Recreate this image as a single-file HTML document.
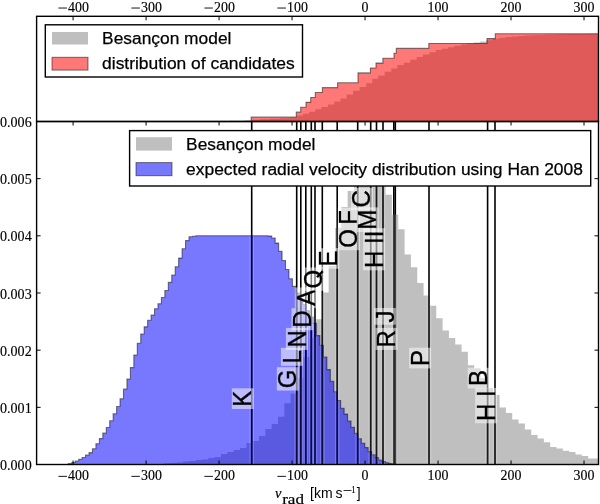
<!DOCTYPE html><html><head><meta charset="utf-8"><style>html,body{margin:0;padding:0;background:#fff;}svg{display:block;will-change:transform;} .tk{stroke:#000;stroke-width:0.15px;} .lg{stroke:#000;stroke-width:0.25px;}.s{font-family:"Liberation Serif",serif;} .a{font-family:"Liberation Sans",sans-serif;}</style></head><body>
<svg width="600" height="504" viewBox="0 0 600 504">
<rect width="600" height="504" fill="#fff"/>
<defs><clipPath id="cm"><rect x="36.6" y="121.5" width="561.9" height="343.0"/></clipPath><clipPath id="ct"><rect x="36.6" y="16.3" width="561.9" height="105.2"/></clipPath></defs>
<g clip-path="url(#ct)">
<path d="M36.6,121.5L36.6,121.5L215,121.5L215,121.2L230,121.2L230,120.8L245,120.8L245,120.3L251,120.3L251,119.8L260,119.8L260,119.3L270,119.3L270,118.8L280,118.8L280,118.2L290.5,118.2L290.5,117.4L296.7,117.4L296.7,115.4L302.9,115.4L302.9,113.8L309.1,113.8L309.1,111.8L315.3,111.8L315.3,109.2L321.4,109.2L321.4,107.1L328.1,107.1L328.1,104.5L334.3,104.5L334.3,101.4L340.5,101.4L340.5,98.4L346.5,98.4L346.5,94.6L353.1,94.6L353.1,90.8L359.6,90.8L359.6,87L366.2,87L366.2,83.2L372.2,83.2L372.2,78.8L378.2,78.8L378.2,75.5L384.7,75.5L384.7,71.7L391.3,71.7L391.3,68.4L397.3,68.4L397.3,65L403.8,65L403.8,62.7L410.2,62.7L410.2,59.8L416.6,59.8L416.6,57.1L423,57.1L423,54.5L429.4,54.5L429.4,52.2L435.8,52.2L435.8,50.1L441.7,50.1L441.7,48.7L448.1,48.7L448.1,47.3L454.5,47.3L454.5,45.8L460.9,45.8L460.9,44.6L467.3,44.6L467.3,43.6L473.7,43.6L473.7,42.6L480,42.6L480,41.4L486.4,41.4L486.4,40.2L492.8,40.2L492.8,38.8L499.1,38.8L499.1,37.8L505.5,37.8L505.5,37L511.9,37L511.9,36.4L518.3,36.4L518.3,35.9L524.6,35.9L524.6,35.5L531,35.5L531,35.2L537.4,35.2L537.4,34.9L543.7,34.9L543.7,34.7L550.1,34.7L550.1,34.5L556.5,34.5L556.5,34.3L562.9,34.3L562.9,34.2L569.2,34.2L569.2,34.1L575.6,34.1L575.6,34L582,34L582,33.9L588.3,33.9L588.3,33.8L594.7,33.8L594.7,33.7L598.5,33.7L598.5,121.5Z" fill="#808080" fill-opacity="0.5"/>
<path d="M36.6,121.5L251.2,121.5L251.2,117.04L296.3,117.04L296.3,112.14L300.7,112.14L300.7,107.23L306,107.23L306,102.33L310.7,102.33L310.7,97.43L315.3,97.43L315.3,92.53L322.4,92.53L322.4,87.63L337.6,87.63L337.6,82.72L358,82.72L358,72.92L370.4,72.92L370.4,68.02L376,68.02L376,63.12L382.9,63.12L382.9,58.21L394,58.21L394,53.31L396.3,53.31L396.3,48.41L428.8,48.41L428.8,43.51L487,43.51L487,38.61L495.3,38.61L495.3,33.7L598.5,33.7L598.5,121.5" fill="#ff0000" fill-opacity="0.53" stroke="#000" stroke-opacity="0.5" stroke-width="1.1"/>
</g>
<g clip-path="url(#cm)">
<line x1="251.7" y1="121.5" x2="251.7" y2="464.5" stroke="#000" stroke-width="1.6"/>
<line x1="296.7" y1="121.5" x2="296.7" y2="464.5" stroke="#000" stroke-width="1.6"/>
<line x1="300.8" y1="121.5" x2="300.8" y2="464.5" stroke="#000" stroke-width="1.6"/>
<line x1="305.8" y1="121.5" x2="305.8" y2="464.5" stroke="#000" stroke-width="1.6"/>
<line x1="311.3" y1="121.5" x2="311.3" y2="464.5" stroke="#000" stroke-width="1.6"/>
<line x1="315" y1="121.5" x2="315" y2="464.5" stroke="#000" stroke-width="1.6"/>
<line x1="322.3" y1="121.5" x2="322.3" y2="464.5" stroke="#000" stroke-width="1.6"/>
<line x1="337.2" y1="121.5" x2="337.2" y2="464.5" stroke="#000" stroke-width="1.6"/>
<line x1="357.7" y1="121.5" x2="357.7" y2="464.5" stroke="#000" stroke-width="1.6"/>
<line x1="370.7" y1="121.5" x2="370.7" y2="464.5" stroke="#000" stroke-width="1.6"/>
<line x1="376.5" y1="121.5" x2="376.5" y2="464.5" stroke="#000" stroke-width="1.6"/>
<line x1="383" y1="121.5" x2="383" y2="464.5" stroke="#000" stroke-width="1.6"/>
<line x1="393.8" y1="121.5" x2="393.8" y2="464.5" stroke="#000" stroke-width="1.6"/>
<line x1="395.3" y1="121.5" x2="395.3" y2="464.5" stroke="#000" stroke-width="1.6"/>
<line x1="429" y1="121.5" x2="429" y2="464.5" stroke="#000" stroke-width="1.6"/>
<line x1="487.6" y1="121.5" x2="487.6" y2="464.5" stroke="#000" stroke-width="1.6"/>
<line x1="495" y1="121.5" x2="495" y2="464.5" stroke="#000" stroke-width="1.6"/>
<path d="M164.07,464.5L164.07,463.3L170.4,463.3L170.4,463L176.73,463L176.73,462.5L183.06,462.5L183.06,461.5L189.39,461.5L189.39,461L195.72,461L195.72,460L202.05,460L202.05,459.5L208.38,459.5L208.38,458L214.71,458L214.71,457L221.04,457L221.04,454L227.37,454L227.37,452L233.7,452L233.7,450L240.03,450L240.03,448L246.36,448L246.36,443L252.69,443L252.69,441L259.02,441L259.02,436L265.35,436L265.35,429L271.68,429L271.68,424L278.01,424L278.01,416.7L284.34,416.7L284.34,403.3L290.67,403.3L290.67,393.8L297,393.8L297,378L303.33,378L303.33,357L309.66,357L309.66,338L315.99,338L315.99,319.3L322.32,319.3L322.32,292.4L328.65,292.4L328.65,266L334.98,266L334.98,228L341.31,228L341.31,207L347.64,207L347.64,191L353.97,191L353.97,185L360.3,185L360.3,184L366.63,184L366.63,184L372.96,184L372.96,183L379.29,183L379.29,183L385.62,183L385.62,194.7L391.95,194.7L391.95,214.8L398.28,214.8L398.28,229.3L404.61,229.3L404.61,254.5L410.94,254.5L410.94,267.3L417.27,267.3L417.27,283L423.6,283L423.6,295.4L429.93,295.4L429.93,305.7L436.26,305.7L436.26,318.2L442.59,318.2L442.59,330.5L448.92,330.5L448.92,338L455.25,338L455.25,344.4L461.58,344.4L461.58,351.7L467.91,351.7L467.91,365.2L474.24,365.2L474.24,368.2L480.57,368.2L480.57,378L486.9,378L486.9,388L493.23,388L493.23,395L499.56,395L499.56,407.6L505.89,407.6L505.89,412.9L512.22,412.9L512.22,419.5L518.55,419.5L518.55,423.5L524.88,423.5L524.88,429.5L531.21,429.5L531.21,434.9L537.54,434.9L537.54,438.4L543.87,438.4L543.87,442.3L550.2,442.3L550.2,447L556.53,447L556.53,448.4L562.86,448.4L562.86,450.7L569.19,450.7L569.19,451.9L575.52,451.9L575.52,454.5L581.85,454.5L581.85,455.9L588.18,455.9L588.18,458.4L594.51,458.4L594.51,458.4L598.5,458.4L598.5,464.5Z" fill="#808080" fill-opacity="0.5"/>
<path d="M61.45,464.5L61.45,464.5L64.9,464.5L64.9,464.5L68.35,464.5L68.35,463.63L71.8,463.63L71.8,462.5L75.24,462.5L75.24,461.01L78.69,461.01L78.69,459.24L82.14,459.24L82.14,457.44L85.58,457.44L85.58,455.04L89.03,455.04L89.03,452.65L92.48,452.65L92.48,448.71L95.92,448.71L95.92,443.74L99.37,443.74L99.37,438.59L102.82,438.59L102.82,433.15L106.27,433.15L106.27,427.49L109.71,427.49L109.71,420.69L113.16,420.69L113.16,413.81L116.61,413.81L116.61,406.46L120.05,406.46L120.05,398.7L123.5,398.7L123.5,389.14L126.95,389.14L126.95,378.95L130.39,378.95L130.39,367.58L133.84,367.58L133.84,354.97L137.29,354.97L137.29,343.21L140.74,343.21L140.74,334L144.18,334L144.18,326.86L147.63,326.86L147.63,320.32L151.08,320.32L151.08,315.16L154.52,315.16L154.52,308.68L157.97,308.68L157.97,303.7L161.42,303.7L161.42,297.57L164.86,297.57L164.86,290.57L168.31,290.57L168.31,282.38L171.76,282.38L171.76,275.16L175.21,275.16L175.2,266.69L178.65,266.69L178.65,258.11L182.1,258.11L182.1,248.75L185.55,248.75L185.55,240.61L188.99,240.61L188.99,236.78L192.44,236.78L192.44,236.19L195.89,236.19L195.89,235.8L199.33,235.8L199.33,235.8L202.78,235.8L202.78,235.8L206.23,235.8L206.23,235.8L209.68,235.8L209.68,235.8L213.12,235.8L213.12,235.8L216.57,235.8L216.57,235.8L220.02,235.8L220.02,235.8L223.46,235.8L223.46,235.8L226.91,235.8L226.91,235.8L230.36,235.8L230.36,235.8L233.8,235.8L233.8,235.8L237.25,235.8L237.25,235.8L240.7,235.8L240.7,235.8L244.15,235.8L244.14,235.8L247.59,235.8L247.59,235.8L251.04,235.8L251.04,235.8L254.49,235.8L254.49,235.8L257.93,235.8L257.93,235.8L261.38,235.8L261.38,235.8L264.83,235.8L264.83,235.8L268.27,235.8L268.27,236.12L271.72,236.12L271.72,238.02L275.17,238.02L275.17,243.08L278.62,243.08L278.62,251.39L282.06,251.39L282.06,260.51L285.51,260.51L285.51,269.47L288.96,269.47L288.96,278.71L292.4,278.71L292.4,286.38L295.85,286.38L295.85,293.09L299.3,293.09L299.3,298.9L302.74,298.9L302.74,304.7L306.19,304.7L306.19,310.73L309.64,310.73L309.64,317.05L313.09,317.05L313.09,323.37L316.53,323.37L316.53,335.6L319.98,335.6L319.98,345.3L323.43,345.3L323.43,357L326.87,357L326.87,369.6L330.32,369.6L330.32,381.4L333.77,381.4L333.77,391.8L337.21,391.8L337.21,400.5L340.66,400.5L340.66,408.2L344.11,408.2L344.11,414.1L347.56,414.1L347.56,421L351,421L351,427.3L354.45,427.3L354.45,433.2L357.9,433.2L357.9,438.8L361.34,438.8L361.34,443.2L364.79,443.2L364.79,447.6L368.24,447.6L368.24,451.6L371.68,451.6L371.68,454.8L375.13,454.8L375.13,457.6L378.58,457.6L378.58,460L382.02,460L382.02,461.6L385.47,461.6L385.47,462.8L388.92,462.8L388.92,463.6L392.37,463.6L392.37,464.2L395.81,464.2L395.81,464.5" fill="#0000ff" fill-opacity="0.53" stroke="#000" stroke-opacity="0.5" stroke-width="1.1"/>
<clipPath id="ch"><path d="M164.07,464.5L164.07,463.3L170.4,463.3L170.4,463L176.73,463L176.73,462.5L183.06,462.5L183.06,461.5L189.39,461.5L189.39,461L195.72,461L195.72,460L202.05,460L202.05,459.5L208.38,459.5L208.38,458L214.71,458L214.71,457L221.04,457L221.04,454L227.37,454L227.37,452L233.7,452L233.7,450L240.03,450L240.03,448L246.36,448L246.36,443L252.69,443L252.69,441L259.02,441L259.02,436L265.35,436L265.35,429L271.68,429L271.68,424L278.01,424L278.01,416.7L284.34,416.7L284.34,403.3L290.67,403.3L290.67,393.8L297,393.8L297,378L303.33,378L303.33,357L309.66,357L309.66,338L315.99,338L315.99,319.3L322.32,319.3L322.32,292.4L328.65,292.4L328.65,266L334.98,266L334.98,228L341.31,228L341.31,207L347.64,207L347.64,191L353.97,191L353.97,185L360.3,185L360.3,184L366.63,184L366.63,184L372.96,184L372.96,183L379.29,183L379.29,183L385.62,183L385.62,194.7L391.95,194.7L391.95,214.8L398.28,214.8L398.28,229.3L404.61,229.3L404.61,254.5L410.94,254.5L410.94,267.3L417.27,267.3L417.27,283L423.6,283L423.6,295.4L429.93,295.4L429.93,305.7L436.26,305.7L436.26,318.2L442.59,318.2L442.59,330.5L448.92,330.5L448.92,338L455.25,338L455.25,344.4L461.58,344.4L461.58,351.7L467.91,351.7L467.91,365.2L474.24,365.2L474.24,368.2L480.57,368.2L480.57,378L486.9,378L486.9,388L493.23,388L493.23,395L499.56,395L499.56,407.6L505.89,407.6L505.89,412.9L512.22,412.9L512.22,419.5L518.55,419.5L518.55,423.5L524.88,423.5L524.88,429.5L531.21,429.5L531.21,434.9L537.54,434.9L537.54,438.4L543.87,438.4L543.87,442.3L550.2,442.3L550.2,447L556.53,447L556.53,448.4L562.86,448.4L562.86,450.7L569.19,450.7L569.19,451.9L575.52,451.9L575.52,454.5L581.85,454.5L581.85,455.9L588.18,455.9L588.18,458.4L594.51,458.4L594.51,458.4L598.5,458.4L598.5,464.5Z"/><path d="M61.45,464.5L61.45,464.5L64.9,464.5L64.9,464.5L68.35,464.5L68.35,463.63L71.8,463.63L71.8,462.5L75.24,462.5L75.24,461.01L78.69,461.01L78.69,459.24L82.14,459.24L82.14,457.44L85.58,457.44L85.58,455.04L89.03,455.04L89.03,452.65L92.48,452.65L92.48,448.71L95.92,448.71L95.92,443.74L99.37,443.74L99.37,438.59L102.82,438.59L102.82,433.15L106.27,433.15L106.27,427.49L109.71,427.49L109.71,420.69L113.16,420.69L113.16,413.81L116.61,413.81L116.61,406.46L120.05,406.46L120.05,398.7L123.5,398.7L123.5,389.14L126.95,389.14L126.95,378.95L130.39,378.95L130.39,367.58L133.84,367.58L133.84,354.97L137.29,354.97L137.29,343.21L140.74,343.21L140.74,334L144.18,334L144.18,326.86L147.63,326.86L147.63,320.32L151.08,320.32L151.08,315.16L154.52,315.16L154.52,308.68L157.97,308.68L157.97,303.7L161.42,303.7L161.42,297.57L164.86,297.57L164.86,290.57L168.31,290.57L168.31,282.38L171.76,282.38L171.76,275.16L175.21,275.16L175.2,266.69L178.65,266.69L178.65,258.11L182.1,258.11L182.1,248.75L185.55,248.75L185.55,240.61L188.99,240.61L188.99,236.78L192.44,236.78L192.44,236.19L195.89,236.19L195.89,235.8L199.33,235.8L199.33,235.8L202.78,235.8L202.78,235.8L206.23,235.8L206.23,235.8L209.68,235.8L209.68,235.8L213.12,235.8L213.12,235.8L216.57,235.8L216.57,235.8L220.02,235.8L220.02,235.8L223.46,235.8L223.46,235.8L226.91,235.8L226.91,235.8L230.36,235.8L230.36,235.8L233.8,235.8L233.8,235.8L237.25,235.8L237.25,235.8L240.7,235.8L240.7,235.8L244.15,235.8L244.14,235.8L247.59,235.8L247.59,235.8L251.04,235.8L251.04,235.8L254.49,235.8L254.49,235.8L257.93,235.8L257.93,235.8L261.38,235.8L261.38,235.8L264.83,235.8L264.83,235.8L268.27,235.8L268.27,236.12L271.72,236.12L271.72,238.02L275.17,238.02L275.17,243.08L278.62,243.08L278.62,251.39L282.06,251.39L282.06,260.51L285.51,260.51L285.51,269.47L288.96,269.47L288.96,278.71L292.4,278.71L292.4,286.38L295.85,286.38L295.85,293.09L299.3,293.09L299.3,298.9L302.74,298.9L302.74,304.7L306.19,304.7L306.19,310.73L309.64,310.73L309.64,317.05L313.09,317.05L313.09,323.37L316.53,323.37L316.53,335.6L319.98,335.6L319.98,345.3L323.43,345.3L323.43,357L326.87,357L326.87,369.6L330.32,369.6L330.32,381.4L333.77,381.4L333.77,391.8L337.21,391.8L337.21,400.5L340.66,400.5L340.66,408.2L344.11,408.2L344.11,414.1L347.56,414.1L347.56,421L351,421L351,427.3L354.45,427.3L354.45,433.2L357.9,433.2L357.9,438.8L361.34,438.8L361.34,443.2L364.79,443.2L364.79,447.6L368.24,447.6L368.24,451.6L371.68,451.6L371.68,454.8L375.13,454.8L375.13,457.6L378.58,457.6L378.58,460L382.02,460L382.02,461.6L385.47,461.6L385.47,462.8L388.92,462.8L388.92,463.6L392.37,463.6L392.37,464.2L395.81,464.2L395.81,464.5"/></clipPath>
<g clip-path="url(#ch)">
<line x1="251.7" y1="121.5" x2="251.7" y2="464.5" stroke="#000" stroke-opacity="0.6" stroke-width="1.6"/>
<line x1="296.7" y1="121.5" x2="296.7" y2="464.5" stroke="#000" stroke-opacity="0.6" stroke-width="1.6"/>
<line x1="300.8" y1="121.5" x2="300.8" y2="464.5" stroke="#000" stroke-opacity="0.6" stroke-width="1.6"/>
<line x1="305.8" y1="121.5" x2="305.8" y2="464.5" stroke="#000" stroke-opacity="0.6" stroke-width="1.6"/>
<line x1="311.3" y1="121.5" x2="311.3" y2="464.5" stroke="#000" stroke-opacity="0.6" stroke-width="1.6"/>
<line x1="315" y1="121.5" x2="315" y2="464.5" stroke="#000" stroke-opacity="0.6" stroke-width="1.6"/>
<line x1="322.3" y1="121.5" x2="322.3" y2="464.5" stroke="#000" stroke-opacity="0.6" stroke-width="1.6"/>
<line x1="337.2" y1="121.5" x2="337.2" y2="464.5" stroke="#000" stroke-opacity="0.6" stroke-width="1.6"/>
<line x1="357.7" y1="121.5" x2="357.7" y2="464.5" stroke="#000" stroke-opacity="0.6" stroke-width="1.6"/>
<line x1="370.7" y1="121.5" x2="370.7" y2="464.5" stroke="#000" stroke-opacity="0.6" stroke-width="1.6"/>
<line x1="376.5" y1="121.5" x2="376.5" y2="464.5" stroke="#000" stroke-opacity="0.6" stroke-width="1.6"/>
<line x1="383" y1="121.5" x2="383" y2="464.5" stroke="#000" stroke-opacity="0.6" stroke-width="1.6"/>
<line x1="393.8" y1="121.5" x2="393.8" y2="464.5" stroke="#000" stroke-opacity="0.6" stroke-width="1.6"/>
<line x1="395.3" y1="121.5" x2="395.3" y2="464.5" stroke="#000" stroke-opacity="0.6" stroke-width="1.6"/>
<line x1="429" y1="121.5" x2="429" y2="464.5" stroke="#000" stroke-opacity="0.6" stroke-width="1.6"/>
<line x1="487.6" y1="121.5" x2="487.6" y2="464.5" stroke="#000" stroke-opacity="0.6" stroke-width="1.6"/>
<line x1="495" y1="121.5" x2="495" y2="464.5" stroke="#000" stroke-opacity="0.6" stroke-width="1.6"/>
<line x1="249.95" y1="121.5" x2="249.95" y2="464.5" stroke="#fff" stroke-opacity="0.22" stroke-width="0.9"/>
<line x1="253.45" y1="121.5" x2="253.45" y2="464.5" stroke="#fff" stroke-opacity="0.22" stroke-width="0.9"/>
<line x1="294.95" y1="121.5" x2="294.95" y2="464.5" stroke="#fff" stroke-opacity="0.22" stroke-width="0.9"/>
<line x1="298.45" y1="121.5" x2="298.45" y2="464.5" stroke="#fff" stroke-opacity="0.22" stroke-width="0.9"/>
<line x1="299.05" y1="121.5" x2="299.05" y2="464.5" stroke="#fff" stroke-opacity="0.22" stroke-width="0.9"/>
<line x1="302.55" y1="121.5" x2="302.55" y2="464.5" stroke="#fff" stroke-opacity="0.22" stroke-width="0.9"/>
<line x1="304.05" y1="121.5" x2="304.05" y2="464.5" stroke="#fff" stroke-opacity="0.22" stroke-width="0.9"/>
<line x1="307.55" y1="121.5" x2="307.55" y2="464.5" stroke="#fff" stroke-opacity="0.22" stroke-width="0.9"/>
<line x1="309.55" y1="121.5" x2="309.55" y2="464.5" stroke="#fff" stroke-opacity="0.22" stroke-width="0.9"/>
<line x1="313.05" y1="121.5" x2="313.05" y2="464.5" stroke="#fff" stroke-opacity="0.22" stroke-width="0.9"/>
<line x1="313.25" y1="121.5" x2="313.25" y2="464.5" stroke="#fff" stroke-opacity="0.22" stroke-width="0.9"/>
<line x1="316.75" y1="121.5" x2="316.75" y2="464.5" stroke="#fff" stroke-opacity="0.22" stroke-width="0.9"/>
<line x1="320.55" y1="121.5" x2="320.55" y2="464.5" stroke="#fff" stroke-opacity="0.22" stroke-width="0.9"/>
<line x1="324.05" y1="121.5" x2="324.05" y2="464.5" stroke="#fff" stroke-opacity="0.22" stroke-width="0.9"/>
<line x1="335.45" y1="121.5" x2="335.45" y2="464.5" stroke="#fff" stroke-opacity="0.22" stroke-width="0.9"/>
<line x1="338.95" y1="121.5" x2="338.95" y2="464.5" stroke="#fff" stroke-opacity="0.22" stroke-width="0.9"/>
<line x1="355.95" y1="121.5" x2="355.95" y2="464.5" stroke="#fff" stroke-opacity="0.22" stroke-width="0.9"/>
<line x1="359.45" y1="121.5" x2="359.45" y2="464.5" stroke="#fff" stroke-opacity="0.22" stroke-width="0.9"/>
<line x1="368.95" y1="121.5" x2="368.95" y2="464.5" stroke="#fff" stroke-opacity="0.22" stroke-width="0.9"/>
<line x1="372.45" y1="121.5" x2="372.45" y2="464.5" stroke="#fff" stroke-opacity="0.22" stroke-width="0.9"/>
<line x1="374.75" y1="121.5" x2="374.75" y2="464.5" stroke="#fff" stroke-opacity="0.22" stroke-width="0.9"/>
<line x1="378.25" y1="121.5" x2="378.25" y2="464.5" stroke="#fff" stroke-opacity="0.22" stroke-width="0.9"/>
<line x1="381.25" y1="121.5" x2="381.25" y2="464.5" stroke="#fff" stroke-opacity="0.22" stroke-width="0.9"/>
<line x1="384.75" y1="121.5" x2="384.75" y2="464.5" stroke="#fff" stroke-opacity="0.22" stroke-width="0.9"/>
<line x1="392.05" y1="121.5" x2="392.05" y2="464.5" stroke="#fff" stroke-opacity="0.22" stroke-width="0.9"/>
<line x1="395.55" y1="121.5" x2="395.55" y2="464.5" stroke="#fff" stroke-opacity="0.22" stroke-width="0.9"/>
<line x1="393.55" y1="121.5" x2="393.55" y2="464.5" stroke="#fff" stroke-opacity="0.22" stroke-width="0.9"/>
<line x1="397.05" y1="121.5" x2="397.05" y2="464.5" stroke="#fff" stroke-opacity="0.22" stroke-width="0.9"/>
<line x1="427.25" y1="121.5" x2="427.25" y2="464.5" stroke="#fff" stroke-opacity="0.22" stroke-width="0.9"/>
<line x1="430.75" y1="121.5" x2="430.75" y2="464.5" stroke="#fff" stroke-opacity="0.22" stroke-width="0.9"/>
<line x1="485.85" y1="121.5" x2="485.85" y2="464.5" stroke="#fff" stroke-opacity="0.22" stroke-width="0.9"/>
<line x1="489.35" y1="121.5" x2="489.35" y2="464.5" stroke="#fff" stroke-opacity="0.22" stroke-width="0.9"/>
<line x1="493.25" y1="121.5" x2="493.25" y2="464.5" stroke="#fff" stroke-opacity="0.22" stroke-width="0.9"/>
<line x1="496.75" y1="121.5" x2="496.75" y2="464.5" stroke="#fff" stroke-opacity="0.22" stroke-width="0.9"/>
</g>
<g transform="translate(251.4,406.67) rotate(-90)"><rect x="-2.35" y="-19.58" width="20.71" height="21.93" fill="#fff" fill-opacity="0.5"/><g transform="scale(1,1.044)"><text class="a" x="0" y="0" font-size="24.0" fill="#000" stroke="#000" stroke-width="0.3">K</text></g></g>
<g transform="translate(296.4,388.21) rotate(-90)"><rect x="-2.35" y="-19.58" width="23.37" height="21.93" fill="#fff" fill-opacity="0.5"/><g transform="scale(1,1.044)"><text class="a" x="0" y="0" font-size="24.0" fill="#000" stroke="#000" stroke-width="0.3">G</text></g></g>
<g transform="translate(300.5,363.47) rotate(-90)"><rect x="-2.35" y="-19.58" width="18.05" height="21.93" fill="#fff" fill-opacity="0.5"/><g transform="scale(1,1.044)"><text class="a" x="0" y="0" font-size="24.0" fill="#000" stroke="#000" stroke-width="0.3">L</text></g></g>
<g transform="translate(305.5,347.57) rotate(-90)"><rect x="-2.35" y="-19.58" width="22.03" height="21.93" fill="#fff" fill-opacity="0.5"/><g transform="scale(1,1.044)"><text class="a" x="0" y="0" font-size="24.0" fill="#000" stroke="#000" stroke-width="0.3">N</text></g></g>
<g transform="translate(311,327.87) rotate(-90)"><rect x="-2.35" y="-19.58" width="22.03" height="21.93" fill="#fff" fill-opacity="0.5"/><g transform="scale(1,1.044)"><text class="a" x="0" y="0" font-size="24.0" fill="#000" stroke="#000" stroke-width="0.3">D</text></g></g>
<g transform="translate(314.7,305.85) rotate(-90)"><rect x="-2.35" y="-19.58" width="20.71" height="21.93" fill="#fff" fill-opacity="0.5"/><g transform="scale(1,1.044)"><text class="a" x="0" y="0" font-size="24.0" fill="#000" stroke="#000" stroke-width="0.3">A</text></g></g>
<g transform="translate(322,288.44) rotate(-90)"><rect x="-2.35" y="-19.58" width="23.37" height="22.65" fill="#fff" fill-opacity="0.5"/><g transform="scale(1,1.044)"><text class="a" x="0" y="0" font-size="24.0" fill="#000" stroke="#000" stroke-width="0.3">O</text><line x1="11.28" y1="-4.8" x2="17.28" y2="0.72" stroke="#000" stroke-width="2.3"/></g></g>
<g transform="translate(336.9,266.47) rotate(-90)"><rect x="-2.35" y="-19.58" width="20.71" height="21.93" fill="#fff" fill-opacity="0.5"/><g transform="scale(1,1.044)"><text class="a" x="0" y="0" font-size="24.0" fill="#000" stroke="#000" stroke-width="0.3">E</text></g></g>
<g transform="translate(357.4,247.84) rotate(-90)"><rect x="-2.35" y="-19.58" width="23.37" height="21.93" fill="#fff" fill-opacity="0.5"/><g transform="scale(1,1.044)"><text class="a" x="0" y="0" font-size="24.0" fill="#000" stroke="#000" stroke-width="0.3">O</text></g></g>
<g transform="translate(357.4,224.67) rotate(-90)"><rect x="-2.35" y="-19.58" width="19.36" height="21.93" fill="#fff" fill-opacity="0.5"/><g transform="scale(1,1.044)"><text class="a" x="0" y="0" font-size="24.0" fill="#000" stroke="#000" stroke-width="0.3">F</text></g></g>
<g transform="translate(370.4,207.52) rotate(-90)"><rect x="-2.35" y="-19.58" width="22.03" height="21.93" fill="#fff" fill-opacity="0.5"/><g transform="scale(1,1.044)"><text class="a" x="0" y="0" font-size="24.0" fill="#000" stroke="#000" stroke-width="0.3">C</text></g></g>
<g transform="translate(376.2,229.67) rotate(-90)"><rect x="-2.35" y="-19.58" width="24.69" height="21.93" fill="#fff" fill-opacity="0.5"/><g transform="scale(1,1.044)"><text class="a" x="0" y="0" font-size="24.0" fill="#000" stroke="#000" stroke-width="0.3">M</text></g></g>
<g transform="translate(382.7,267.97) rotate(-90)"><rect x="-2.35" y="-19.58" width="42.04" height="21.93" fill="#fff" fill-opacity="0.5"/><g transform="scale(1,1.044)"><text class="a" x="0" y="0" font-size="24.0" fill="#000" stroke="#000" stroke-width="0.3">H II</text></g></g>
<g transform="translate(393.5,322.38) rotate(-90)"><rect x="-2.35" y="-19.58" width="16.7" height="21.93" fill="#fff" fill-opacity="0.5"/><g transform="scale(1,1.044)"><text class="a" x="0" y="0" font-size="24.0" fill="#000" stroke="#000" stroke-width="0.3">J</text></g></g>
<g transform="translate(395,347.57) rotate(-90)"><rect x="-2.35" y="-19.58" width="22.03" height="21.93" fill="#fff" fill-opacity="0.5"/><g transform="scale(1,1.044)"><text class="a" x="0" y="0" font-size="24.0" fill="#000" stroke="#000" stroke-width="0.3">R</text></g></g>
<g transform="translate(428.7,366.07) rotate(-90)"><rect x="-2.35" y="-19.58" width="20.71" height="21.93" fill="#fff" fill-opacity="0.5"/><g transform="scale(1,1.044)"><text class="a" x="0" y="0" font-size="24.0" fill="#000" stroke="#000" stroke-width="0.3">P</text></g></g>
<g transform="translate(487.3,386.07) rotate(-90)"><rect x="-2.35" y="-19.58" width="20.71" height="21.93" fill="#fff" fill-opacity="0.5"/><g transform="scale(1,1.044)"><text class="a" x="0" y="0" font-size="24.0" fill="#000" stroke="#000" stroke-width="0.3">B</text></g></g>
<g transform="translate(494.7,420.97) rotate(-90)"><rect x="-2.35" y="-19.58" width="35.37" height="21.93" fill="#fff" fill-opacity="0.5"/><g transform="scale(1,1.044)"><text class="a" x="0" y="0" font-size="24.0" fill="#000" stroke="#000" stroke-width="0.3">H I</text></g></g>
</g>
<rect x="36.6" y="16.3" width="561.9" height="105.2" fill="none" stroke="#000" stroke-width="1.4"/>
<rect x="36.6" y="121.5" width="561.9" height="343.0" fill="none" stroke="#000" stroke-width="1.4"/>
<line x1="73.09" y1="464.5" x2="73.09" y2="460.5" stroke="#000" stroke-width="1"/>
<line x1="73.09" y1="121.5" x2="73.09" y2="125.5" stroke="#000" stroke-width="1"/>
<line x1="73.09" y1="16.3" x2="73.09" y2="20.3" stroke="#000" stroke-width="1"/>
<rect x="58.42" y="475.88" width="8.49" height="0.9" fill="#000"/>
<text class="s tk" x="68.08" y="479.8" font-size="13.9">400</text>
<rect x="58.42" y="7.58" width="8.49" height="0.9" fill="#000"/>
<text class="s tk" x="68.08" y="11.5" font-size="13.9">400</text>
<line x1="146.09" y1="464.5" x2="146.09" y2="460.5" stroke="#000" stroke-width="1"/>
<line x1="146.09" y1="121.5" x2="146.09" y2="125.5" stroke="#000" stroke-width="1"/>
<line x1="146.09" y1="16.3" x2="146.09" y2="20.3" stroke="#000" stroke-width="1"/>
<rect x="131.41" y="475.88" width="8.49" height="0.9" fill="#000"/>
<text class="s tk" x="141.07" y="479.8" font-size="13.9">300</text>
<rect x="131.41" y="7.58" width="8.49" height="0.9" fill="#000"/>
<text class="s tk" x="141.07" y="11.5" font-size="13.9">300</text>
<line x1="219.07" y1="464.5" x2="219.07" y2="460.5" stroke="#000" stroke-width="1"/>
<line x1="219.07" y1="121.5" x2="219.07" y2="125.5" stroke="#000" stroke-width="1"/>
<line x1="219.07" y1="16.3" x2="219.07" y2="20.3" stroke="#000" stroke-width="1"/>
<rect x="204.4" y="475.88" width="8.49" height="0.9" fill="#000"/>
<text class="s tk" x="214.06" y="479.8" font-size="13.9">200</text>
<rect x="204.4" y="7.58" width="8.49" height="0.9" fill="#000"/>
<text class="s tk" x="214.06" y="11.5" font-size="13.9">200</text>
<line x1="292.06" y1="464.5" x2="292.06" y2="460.5" stroke="#000" stroke-width="1"/>
<line x1="292.06" y1="121.5" x2="292.06" y2="125.5" stroke="#000" stroke-width="1"/>
<line x1="292.06" y1="16.3" x2="292.06" y2="20.3" stroke="#000" stroke-width="1"/>
<rect x="277.39" y="475.88" width="8.49" height="0.9" fill="#000"/>
<text class="s tk" x="287.05" y="479.8" font-size="13.9">100</text>
<rect x="277.39" y="7.58" width="8.49" height="0.9" fill="#000"/>
<text class="s tk" x="287.05" y="11.5" font-size="13.9">100</text>
<line x1="365.06" y1="464.5" x2="365.06" y2="460.5" stroke="#000" stroke-width="1"/>
<line x1="365.06" y1="121.5" x2="365.06" y2="125.5" stroke="#000" stroke-width="1"/>
<line x1="365.06" y1="16.3" x2="365.06" y2="20.3" stroke="#000" stroke-width="1"/>
<text class="s tk" x="361.58" y="479.8" font-size="13.9">0</text>
<text class="s tk" x="361.58" y="11.5" font-size="13.9">0</text>
<line x1="438.05" y1="464.5" x2="438.05" y2="460.5" stroke="#000" stroke-width="1"/>
<line x1="438.05" y1="121.5" x2="438.05" y2="125.5" stroke="#000" stroke-width="1"/>
<line x1="438.05" y1="16.3" x2="438.05" y2="20.3" stroke="#000" stroke-width="1"/>
<text class="s tk" x="427.62" y="479.8" font-size="13.9">100</text>
<text class="s tk" x="427.62" y="11.5" font-size="13.9">100</text>
<line x1="511.04" y1="464.5" x2="511.04" y2="460.5" stroke="#000" stroke-width="1"/>
<line x1="511.04" y1="121.5" x2="511.04" y2="125.5" stroke="#000" stroke-width="1"/>
<line x1="511.04" y1="16.3" x2="511.04" y2="20.3" stroke="#000" stroke-width="1"/>
<text class="s tk" x="500.61" y="479.8" font-size="13.9">200</text>
<text class="s tk" x="500.61" y="11.5" font-size="13.9">200</text>
<line x1="584.02" y1="464.5" x2="584.02" y2="460.5" stroke="#000" stroke-width="1"/>
<line x1="584.02" y1="121.5" x2="584.02" y2="125.5" stroke="#000" stroke-width="1"/>
<line x1="584.02" y1="16.3" x2="584.02" y2="20.3" stroke="#000" stroke-width="1"/>
<text class="s tk" x="573.6" y="479.8" font-size="13.9">300</text>
<text class="s tk" x="573.6" y="11.5" font-size="13.9">300</text>
<line x1="36.6" y1="464.5" x2="40.6" y2="464.5" stroke="#000" stroke-width="1"/>
<line x1="598.5" y1="464.5" x2="594.5" y2="464.5" stroke="#000" stroke-width="1"/>
<text class="s tk" x="0.04" y="470.1" font-size="13.9" textLength="31.66" lengthAdjust="spacingAndGlyphs">0.000</text>
<line x1="36.6" y1="407.33" x2="40.6" y2="407.33" stroke="#000" stroke-width="1"/>
<line x1="598.5" y1="407.33" x2="594.5" y2="407.33" stroke="#000" stroke-width="1"/>
<text class="s tk" x="0.04" y="412.93" font-size="13.9" textLength="31.66" lengthAdjust="spacingAndGlyphs">0.001</text>
<line x1="36.6" y1="350.16" x2="40.6" y2="350.16" stroke="#000" stroke-width="1"/>
<line x1="598.5" y1="350.16" x2="594.5" y2="350.16" stroke="#000" stroke-width="1"/>
<text class="s tk" x="0.04" y="355.76" font-size="13.9" textLength="31.66" lengthAdjust="spacingAndGlyphs">0.002</text>
<line x1="36.6" y1="292.99" x2="40.6" y2="292.99" stroke="#000" stroke-width="1"/>
<line x1="598.5" y1="292.99" x2="594.5" y2="292.99" stroke="#000" stroke-width="1"/>
<text class="s tk" x="0.04" y="298.59" font-size="13.9" textLength="31.66" lengthAdjust="spacingAndGlyphs">0.003</text>
<line x1="36.6" y1="235.82" x2="40.6" y2="235.82" stroke="#000" stroke-width="1"/>
<line x1="598.5" y1="235.82" x2="594.5" y2="235.82" stroke="#000" stroke-width="1"/>
<text class="s tk" x="0.04" y="241.42" font-size="13.9" textLength="31.66" lengthAdjust="spacingAndGlyphs">0.004</text>
<line x1="36.6" y1="178.65" x2="40.6" y2="178.65" stroke="#000" stroke-width="1"/>
<line x1="598.5" y1="178.65" x2="594.5" y2="178.65" stroke="#000" stroke-width="1"/>
<text class="s tk" x="0.04" y="184.25" font-size="13.9" textLength="31.66" lengthAdjust="spacingAndGlyphs">0.005</text>
<line x1="36.6" y1="121.48" x2="40.6" y2="121.48" stroke="#000" stroke-width="1"/>
<line x1="598.5" y1="121.48" x2="594.5" y2="121.48" stroke="#000" stroke-width="1"/>
<text class="s tk" x="0.04" y="127.08" font-size="13.9" textLength="31.66" lengthAdjust="spacingAndGlyphs">0.006</text>
<text class="s tk" x="275" y="498" font-size="14.5" font-style="italic" style="stroke-width:0.2px">v</text>
<text class="s tk" x="282.2" y="503.6" font-size="15" textLength="21.8" lengthAdjust="spacingAndGlyphs" style="stroke-width:0.2px">rad</text>
<text class="a" x="310.1" y="498.2" font-size="14">[km</text>
<text class="a" x="335.5" y="498.2" font-size="14">s</text>
<rect x="343.5" y="490.1" width="8" height="0.8" fill="#000"/>
<text class="s" x="350.9" y="492.6" font-size="9.7">1</text>
<text class="a" x="356.7" y="498.2" font-size="14">]</text>
<rect x="45.3" y="24.8" width="257.2" height="52.2" fill="#fff" stroke="#000" stroke-width="1.4"/>
<rect x="52" y="32" width="36" height="12.5" fill="#bfbfbf"/>
<rect x="52" y="57.3" width="36" height="12.8" fill="#ff7878" stroke="#000" stroke-opacity="0.5" stroke-width="1"/>
<text class="a lg" x="102.1" y="44.0" font-size="17.3" textLength="129.3" lengthAdjust="spacingAndGlyphs">Besançon model</text>
<text class="a lg" x="102.1" y="69.2" font-size="17.3" textLength="192.6" lengthAdjust="spacingAndGlyphs">distribution of candidates</text>
<rect x="129.6" y="130.6" width="461.1" height="55.4" fill="#fff" stroke="#000" stroke-width="1.4"/>
<rect x="136" y="137.2" width="36" height="13.4" fill="#bfbfbf"/>
<rect x="136" y="162.6" width="36" height="13.1" fill="#7878ff" stroke="#000" stroke-opacity="0.5" stroke-width="1"/>
<text class="a lg" x="186.1" y="150.2" font-size="17.3" textLength="129.3" lengthAdjust="spacingAndGlyphs">Besançon model</text>
<text class="a lg" x="186.1" y="175.1" font-size="17.3" textLength="396.8" lengthAdjust="spacingAndGlyphs">expected radial velocity distribution using Han 2008</text>
</svg></body></html>
